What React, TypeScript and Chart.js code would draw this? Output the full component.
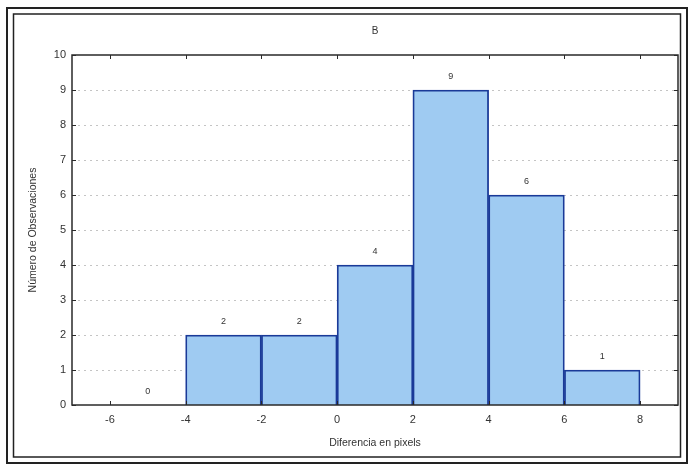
import React, { useEffect, useRef } from "react";
import { Chart, registerables } from "chart.js";

Chart.register(...registerables);

const binCenters = [-5, -3, -1, 1, 3, 5, 7];
const counts = [0, 2, 2, 4, 9, 6, 1];
const xTicks = [-6, -4, -2, 0, 2, 4, 6, 8];
const yTicks = [0, 1, 2, 3, 4, 5, 6, 7, 8, 9, 10];
const titleText = "B";
const xTitle = "Diferencia en pixels";
const yTitle = "Número de Observaciones";

const FONT = "'Liberation Sans', Arial, sans-serif";

const decorPlugin = {
  id: "decor",
  beforeDraw(chart: any) {
    const { ctx, width, height } = chart;
    ctx.save();
    ctx.fillStyle = "#ffffff";
    ctx.fillRect(0, 0, width, height);
    ctx.restore();
  },
  beforeDatasetsDraw(chart: any) {
    const { ctx, chartArea: a, scales } = chart;
    const y = scales.y;
    ctx.save();
    ctx.strokeStyle = "#c4c4c4";
    ctx.lineWidth = 1;
    ctx.setLineDash([2, 4]);
    for (const v of yTicks) {
      if (v === 0 || v === 10) continue;
      const py = Math.round(y.getPixelForValue(v)) + 0.5;
      ctx.beginPath();
      ctx.moveTo(a.left, py);
      ctx.lineTo(a.right, py);
      ctx.stroke();
    }
    ctx.restore();
  },
  afterDraw(chart: any) {
    const { ctx, chartArea: a, scales, width, height } = chart;
    const x = scales.x;
    const y = scales.y;
    ctx.save();
    ctx.strokeStyle = "#2a2a2a";
    ctx.lineWidth = 1.5;
    ctx.strokeRect(a.left, a.top, a.right - a.left, a.bottom - a.top);
    ctx.lineWidth = 1;
    ctx.beginPath();
    for (const v of xTicks) {
      const px = Math.round(x.getPixelForValue(v)) + 0.5;
      ctx.moveTo(px, a.top);
      ctx.lineTo(px, a.top + 4);
      ctx.moveTo(px, a.bottom);
      ctx.lineTo(px, a.bottom - 4);
    }
    for (const v of yTicks) {
      const py = Math.round(y.getPixelForValue(v)) + 0.5;
      ctx.moveTo(a.left, py);
      ctx.lineTo(a.left + 4, py);
      ctx.moveTo(a.right, py);
      ctx.lineTo(a.right - 4, py);
    }
    ctx.stroke();
    ctx.fillStyle = "#333333";
    ctx.font = `9px ${FONT}`;
    ctx.textAlign = "center";
    ctx.textBaseline = "middle";
    binCenters.forEach((c, i) => {
      const px = x.getPixelForValue(c);
      const py = y.getPixelForValue(counts[i]) - 13;
      ctx.fillText(String(counts[i]), px, py);
    });
    ctx.font = `10px ${FONT}`;
    ctx.fillText(titleText, (a.left + a.right) / 2, 31);
    ctx.font = `10.5px ${FONT}`;
    ctx.fillText(xTitle, (a.left + a.right) / 2, 443);
    ctx.save();
    ctx.translate(33, (a.top + a.bottom) / 2);
    ctx.rotate(-Math.PI / 2);
    ctx.fillText(yTitle, 0, 0);
    ctx.restore();
    ctx.strokeStyle = "#222222";
    ctx.lineWidth = 2;
    ctx.strokeRect(7, 8, width - 11, height - 12);
    ctx.lineWidth = 1.5;
    ctx.strokeRect(13.5, 14, width - 24, height - 24);
    ctx.restore();
  },
};

export default function App() {
  const ref = useRef<HTMLCanvasElement | null>(null);
  useEffect(() => {
    document.body.style.margin = "0";
    const canvas = ref.current;
    if (!canvas) return;
    const chart = new Chart(canvas, {
      type: "bar",
      data: {
        datasets: [
          {
            data: binCenters.map((c, i) => ({ x: c, y: counts[i] })),
            backgroundColor: "#9fcbf2",
            borderColor: "#1a3a98",
            borderWidth: 1.8,
            borderSkipped: "bottom",
            barPercentage: 1,
            categoryPercentage: 1,
          },
        ],
      },
      options: {
        animation: false,
        responsive: false,
        maintainAspectRatio: false,
        devicePixelRatio: 1,
        layout: { padding: { left: 0, right: 13, top: 55, bottom: 0 } },
        plugins: {
          legend: { display: false },
          title: { display: false },
          tooltip: { enabled: false },
        },
        scales: {
          x: {
            type: "linear",
            min: -7,
            max: 9,
            offset: false,
            afterFit: (s: any) => {
              s.height = 62;
            },
            afterBuildTicks: (s: any) => {
              s.ticks = xTicks.map((v) => ({ value: v }));
            },
            grid: { display: false, drawTicks: false },
            border: { display: false },
            ticks: {
              color: "#333333",
              font: { family: FONT, size: 11 },
              padding: 8,
            },
          },
          y: {
            min: 0,
            max: 10,
            afterFit: (s: any) => {
              s.width = 72;
            },
            afterBuildTicks: (s: any) => {
              s.ticks = yTicks.map((v) => ({ value: v }));
            },
            grid: { display: false, drawTicks: false },
            border: { display: false },
            ticks: {
              color: "#333333",
              font: { family: FONT, size: 11 },
              padding: 6,
            },
          },
        },
      },
      plugins: [decorPlugin],
    });
    return () => chart.destroy();
  }, []);
  return <canvas ref={ref} width={691} height={467} style={{ display: "block" }} />;
}
